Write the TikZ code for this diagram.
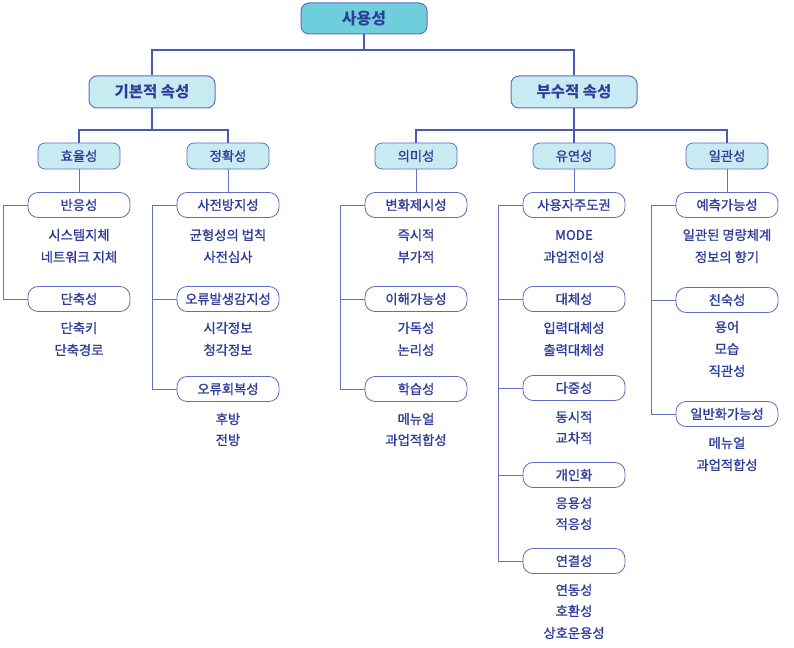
\documentclass[tikz,border=0pt]{standalone}
\usepackage{fontspec}
\setmainfont{Noto Sans CJK KR}
\newfontfamily\krtext{Noto Sans CJK KR}[FakeBold=1.2]
\usetikzlibrary{positioning}

\definecolor{ink}{HTML}{2F3D98}
\definecolor{rim}{HTML}{5F6DC6}
\definecolor{wire}{HTML}{4B59B6}
\definecolor{topfill}{HTML}{6FCEDC}
\definecolor{catfill}{HTML}{C8EBF1}

\begin{document}
\begin{tikzpicture}[x=1pt,y=-1pt,
		every node/.style={text=ink,font=\krtext\fontsize{13.3}{15}\selectfont},
		rootbox/.style={draw=rim,fill=topfill,rounded corners=8pt,line width=1pt,
			minimum width=126pt,minimum height=31pt,font=\fontsize{16}{18}\selectfont\bfseries},
		groupbox/.style={draw=rim,fill=catfill,rounded corners=8pt,line width=1pt,
			minimum width=126pt,minimum height=32pt,font=\fontsize{15.5}{18}\selectfont\bfseries},
		headbox/.style={draw=rim,fill=catfill,rounded corners=7pt,line width=0.8pt,
			minimum width=82pt,minimum height=26pt},
		subbox/.style={draw=rim,fill=white,rounded corners=10pt,line width=0.8pt,
			minimum width=102pt,minimum height=25pt},
		link/.style={draw=wire,line width=1.3pt},
		bracket/.style={draw=wire!85,line width=0.8pt}
	]
	% keep the page the size of the reference
	\useasboundingbox (0,0) rectangle (794,647);

	% root and the two groups
	\node[rootbox] (use) at (364,18.5) {사용성};
	\node[groupbox] (basic) at (152,92) {기본적 속성};
	\node[groupbox] (extra) at (574,92) {부수적 속성};

	% headings of the five columns
	\foreach \name/\x/\t in {eff/79/효율성, acc/228/정확성, mean/416/의미성, flex/574/유연성, cons/727/일관성}
		\node[headbox] (\name) at (\x,156) {\t};

	% junction points of the tree
	\coordinate (j0) at (364,50);
	\coordinate (j1) at (152,130);
	\coordinate (j2) at (574,130);
	\draw[link] (use) -- (j0);
	\draw[link] (j0) -| (basic);
	\draw[link] (j0) -| (extra);
	\draw[link] (basic) -- (j1);
	\foreach \c in {eff,acc}
		\draw[link] (j1) -| (\c);
	\draw[link] (extra) -- (j2);
	\foreach \c in {mean,flex,cons}
		\draw[link] (j2) -| (\c);

	% sub boxes
	% name / x / y / text
	\foreach \name/\x/\y/\t in
	{
		resp/79/205/반응성,
		short/79/299/단축성,
		prev/228/205/사전방지성,
		detect/228/299/오류발생감지성,
		recov/228/389/오류회복성,
		change/416/205/변화제시성,
		grasp/416/299/이해가능성,
		learn/416/389/학습성,
		ctrl/574/205/사용자주도권,
		subst/574/299/대체성,
		multi/574/388/다중성,
		pers/574/475/개인화,
		link/574/561/연결성,
		pred/727/205/예측가능성,
		famil/727/300/친숙성,
		gener/727/414/일반화가능성
	}
		\node[subbox] (\name) at (\x,\y) {\t};

	% plain items under the sub boxes
	% name / x / y / text
	\foreach \name/\x/\y/\t in
	{
		resp1/79/235/시스템지체,
		resp2/79/257/네트워크 지체,
		short1/79/328/단축키,
		short2/79/350/단축경로,
		prev1/228/235/균형성의 법칙,
		prev2/228/257/사전심사,
		detect1/228/328/시각정보,
		detect2/228/350/청각정보,
		recov1/228/419/후방,
		recov2/228/440/전방,
		change1/416/235/즉시적,
		change2/416/257/부가적,
		grasp1/416/328/가독성,
		grasp2/416/350/논리성,
		learn1/416/419/메뉴얼,
		learn2/416/440/과업적합성,
		ctrl1/574/235/MODE,
		ctrl2/574/257/과업전이성,
		subst1/574/328/입력대체성,
		subst2/574/350/출력대체성,
		multi1/574/417/동시적,
		multi2/574/438/교차적,
		pers1/574/503/응용성,
		pers2/574/524/적응성,
		link1/574/590/연동성,
		link2/574/611/호환성,
		link3/574/633/상호운용성,
		pred1/727/235/일관된 명량체계,
		pred2/727/257/정보의 향기,
		famil1/727/327/용어,
		famil2/727/349/모습,
		famil3/727/371/직관성,
		gener1/727/443/메뉴얼,
		gener2/727/465/과업적합성
	}
		\node (\name) at (\x,\y) {\t};

	% heading to first sub box
	\foreach \h/\s in {eff/resp, acc/prev, mean/change, flex/ctrl, cons/pred}
		\draw[bracket] (\h) -- (\s);

	% left brackets joining the sub boxes of a column
	\draw[bracket] (resp.west) -- ++(-24,0) |- (short.west);
	\draw[bracket] (prev.west) -- ++(-24,0) |- (recov.west);
	\draw[bracket] (detect.west) -- ++(-24,0);
	\draw[bracket] (change.west) -- ++(-24,0) |- (learn.west);
	\draw[bracket] (grasp.west) -- ++(-24,0);
	\draw[bracket] (ctrl.west) -- ++(-24,0) |- (link.west);
	\foreach \s in {subst,multi,pers}
		\draw[bracket] (\s.west) -- ++(-24,0);
	\draw[bracket] (pred.west) -- ++(-24,0) |- (gener.west);
	\draw[bracket] (famil.west) -- ++(-24,0);
\end{tikzpicture}
\end{document}
